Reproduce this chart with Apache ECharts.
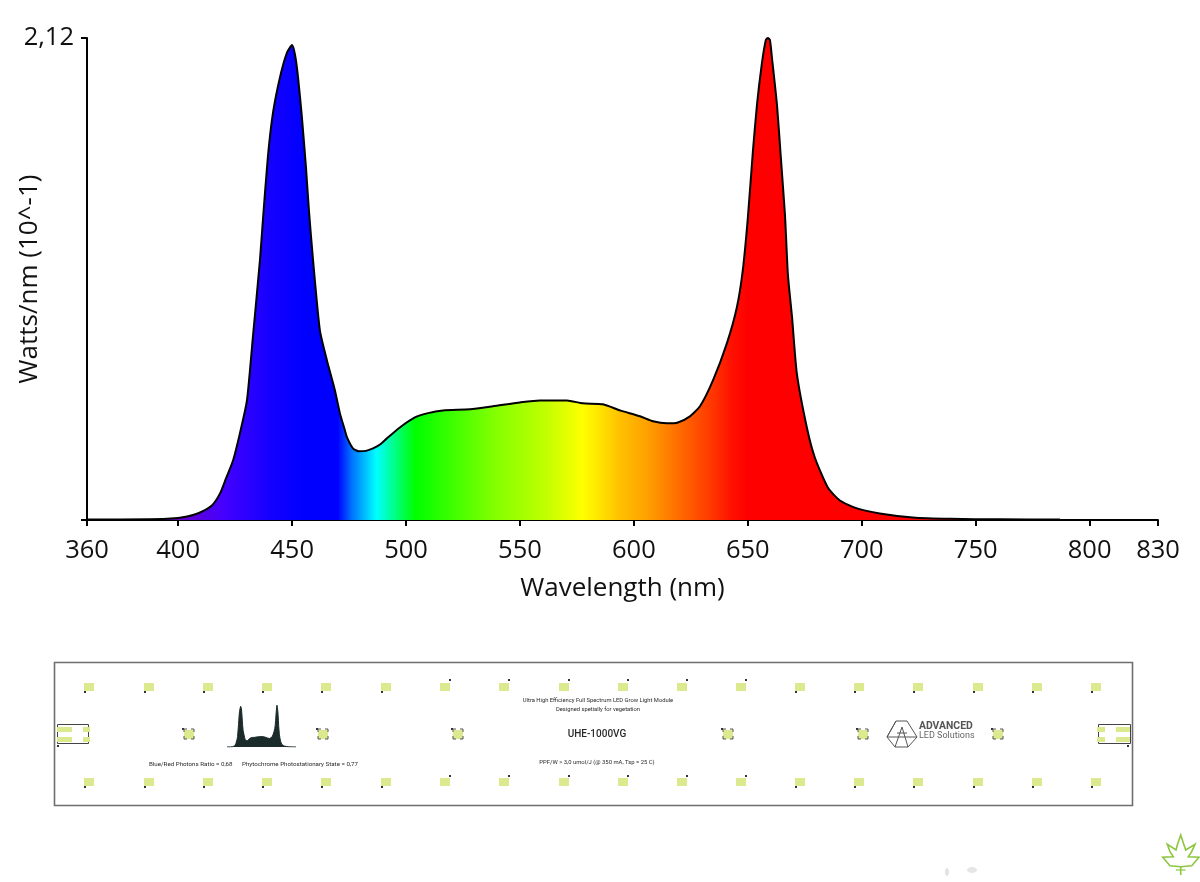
<!DOCTYPE html>
<html>
<head>
<meta charset="utf-8">
<title>UHE-1000VG spectrum</title>
<script src="https://cdn.jsdelivr.net/npm/echarts@6/dist/echarts.min.js"></script>
<style>
  html, body { margin: 0; padding: 0; background: #fff; }
  #chart { width: 1200px; height: 882px; }
</style>
</head>
<body>
<div id="chart"></div>
<script>
/* ── spectrum ── */
const wavelengths = [
  360, 387.6, 400, 403.9, 409.6, 414.8, 418.4, 421, 424.1, 427.1, 430.2, 432.8, 435.9, 437.2, 439.4,
  441.6, 444.7, 447.7, 450, 451.3, 452.6, 454.3, 456.1, 457.4, 459.2, 462.2, 465.3, 468.8, 471, 473.2,
  474.1, 476.7, 479.4, 482.4, 485.5, 488.6, 491.6, 497.3, 503.9, 509.2, 516.2, 528.1, 538.1, 550, 558.8,
  570.6, 577.6, 586.4, 593.9, 602.7, 608.4, 614.5, 619.3, 624.6, 629, 634.7, 640.8, 645.2, 647.8, 650,
  652.2, 654, 656.2, 657.9, 658.8, 659.7, 660.6, 662.8, 664.5, 666.3, 667.6, 669.4, 671.5, 675.9, 679.4,
  685.1, 690.4, 697.9, 707.9, 722.4, 738.7, 760.6, 787
];
const intensities = [
  0.002, 0.003, 0.009, 0.015, 0.033, 0.064, 0.117, 0.183, 0.262, 0.381, 0.526, 0.804, 1.143, 1.319, 1.600,
  1.790, 1.948, 2.054, 2.089, 2.045, 1.948, 1.772, 1.550, 1.360, 1.143, 0.834, 0.702, 0.570, 0.469, 0.394,
  0.363, 0.315, 0.302, 0.304, 0.315, 0.332, 0.359, 0.407, 0.451, 0.469, 0.482, 0.487, 0.500, 0.517, 0.526,
  0.526, 0.513, 0.509, 0.482, 0.456, 0.434, 0.425, 0.429, 0.456, 0.500, 0.614, 0.777, 0.936, 1.099, 1.328,
  1.618, 1.825, 2.010, 2.111, 2.120, 2.111, 2.032, 1.825, 1.592, 1.341, 1.077, 0.892, 0.645, 0.407, 0.275,
  0.143, 0.086, 0.051, 0.029, 0.011, 0.005, 0.003, 0.002
];
const xTicks = [360, 400, 450, 500, 550, 600, 650, 700, 750, 800, 830];
const yTicks = [0, 2.12];

/* fill colour by wavelength */
const spectrumNm = [400, 420, 440, 455, 470, 476, 487, 504, 538, 561, 577.6, 586, 594, 606, 623, 636, 643, 650];
const spectrumColors = [
  "#6a00c8", "#4400ff", "#1500ff", "#0000ff", "#0000ff", "#0070ff", "#00ffff", "#00ff00", "#80ff00", "#c0ff00",
  "#ffff00", "#ffe000", "#ffc000", "#ffa000", "#ff6000", "#ff3000", "#ff1000", "#ff0000"
];

/* module board */
const ledColumns = [89, 149, 208, 267, 326, 386, 445, 504, 564, 623, 682, 741, 800, 859, 918, 978, 1037, 1096];
const dotAboveColumns = [445, 504, 564, 623, 682, 741];
const bracketColumns = [189, 323, 458, 728, 863, 998];

const LED = "#dce98e";
const INK = "#333";

const firstNm = wavelengths[0];
const spanNm = wavelengths[wavelengths.length - 1] - firstNm;
const points = wavelengths.map((w, i) => [w, intensities[i]]);

const spectrumFill = new echarts.graphic.LinearGradient(
  0, 0, 1, 0,
  spectrumNm.map((nm, i) => ({ offset: (nm - firstNm) / spanNm, color: spectrumColors[i] }))
);

const rect = (x, y, width, height, fill) => ({
  type: "rect", silent: true, shape: { x, y, width, height }, style: { fill }
});
const line = (pts, stroke, lineWidth) => ({
  type: "polyline", silent: true, shape: { points: pts }, style: { stroke, lineWidth, fill: null }
});
const label = (x, y, text, fontSize, align, extra) => ({
  type: "text", silent: true, x, y,
  style: Object.assign(
    { text, fontSize, fontFamily: "Roboto", fill: "#2a2a2a", align, verticalAlign: "middle" },
    extra
  )
});

function boardElements() {
  const els = [];
  els.push({
    type: "rect", silent: true,
    shape: { x: 54.5, y: 662.5, width: 1078, height: 143 },
    style: { fill: "#fff", stroke: "#6e6e6e", lineWidth: 1.6 }
  });

  // LED rows
  ledColumns.forEach((x) => {
    const above = dotAboveColumns.includes(x);
    els.push(rect(x - 5, 683, 10, 8, LED));
    els.push(rect(x - 5, 778, 10, 8, LED));
    els.push(rect(above ? x + 4 : x - 5, above ? 679 : 691, 2, 2, INK));
    els.push(rect(above ? x + 4 : x - 5, above ? 775 : 786, 2, 2, INK));
  });

  // bracketed LEDs in the middle row
  bracketColumns.forEach((x) => {
    const y = 734;
    els.push(rect(x - 5, y - 4, 10, 9, LED));
    els.push(rect(x - 7, y - 6, 2, 2, INK));
    els.push(line([[x - 5, y - 2], [x - 5, y - 5], [x - 2, y - 5]], "#555", 1));
    els.push(line([[x + 2, y - 5], [x + 5, y - 5], [x + 5, y - 2]], "#555", 1));
    els.push(line([[x - 5, y + 2], [x - 5, y + 5], [x - 2, y + 5]], "#555", 1));
    els.push(line([[x + 2, y + 5], [x + 5, y + 5], [x + 5, y + 2]], "#555", 1));
  });

  // connectors at both ends
  [[57, 724, 31, 19], [1098, 724, 32, 19]].forEach(([x, y, w, h]) => {
    els.push({
      type: "rect", silent: true, shape: { x: x + 0.5, y: y + 0.5, width: w, height: h },
      style: { fill: null, stroke: "#444", lineWidth: 1 }
    });
  });
  [727, 737].forEach((y) => {
    els.push(rect(57, y, 15, 5, LED), rect(83, y, 7, 5, LED));
    els.push(rect(1097, y, 8, 5, LED), rect(1116, y, 14, 5, LED));
  });
  els.push(rect(57, 745, 2, 2, INK), rect(1127, 745, 2, 2, INK));

  // printed text
  els.push(label(149, 764, "Blue/Red Photons Ratio = 0,68", 6.2, "left"));
  els.push(label(242, 764, "Phytochrome Photostationary State = 0,77", 6.2, "left"));
  els.push(label(598, 701, "Ultra High Efficiency Full Spectrum LED Grow Light Module", 5.8, "center"));
  els.push(label(598, 710, "Designed spetially for vegetation", 5.8, "center"));
  els.push(label(597, 734, "UHE-1000VG", 10, "center", { fontWeight: 500 }));
  els.push(label(597, 763, "PPF/W > 3,0 umol/J (@ 350 mA, Tsp = 25 C)", 5.9, "center"));

  // logo
  els.push(line([[887, 737], [896, 721], [907, 721], [917, 737], [908, 747], [895, 747], [887, 737]], "#555", 1));
  els.push(line([[895, 747], [902, 727], [908, 747]], "#555", 1));
  els.push(line([[896, 721], [887, 737], [917, 737]], "#555", 1));
  els.push(line([[897, 733], [907, 733]], "#555", 1));
  els.push(label(919, 726, "ADVANCED", 10.4, "left", { fontWeight: 700, fill: "#555" }));
  els.push(label(919, 736, "LED Solutions", 9, "left", { fill: "#666" }));

  // leaf in the corner
  els.push(line([
    [1180.7, 866.7], [1170, 865.7], [1162.7, 857.3], [1173.3, 856.7], [1170, 851.7], [1167.3, 844.3],
    [1176, 850], [1177.3, 845], [1180.7, 835], [1184, 845], [1185.7, 850], [1195, 844.3], [1191.7, 851.7],
    [1188.3, 856.7], [1199, 857.3], [1191.7, 865.7], [1180.7, 866.7]
  ], "#8cc63f", 1.6));
  els.push(line([[1180.7, 866.7], [1180.7, 875]], "#8cc63f", 1.6));
  els.push(line([[1176, 870], [1185.5, 870]], "#8cc63f", 1.2));

  // faint smudge under the board
  els.push({
    type: "ellipse", silent: true, shape: { cx: 947, cy: 872, rx: 2, ry: 4 },
    style: { fill: "#e2e2e2" }
  });
  els.push({
    type: "ellipse", silent: true, shape: { cx: 972, cy: 870, rx: 5, ry: 3 },
    style: { fill: "#e6e6e6" }
  });
  return els;
}

const chart = echarts.init(document.getElementById("chart"), undefined, { renderer: "canvas" });

const axisFont = { color: "#111", fontSize: 25.5, fontFamily: "Open Sans" };
const nameFont = { color: "#111", fontSize: 26, fontFamily: "Open Sans" };

chart.setOption({
  animation: false,
  backgroundColor: "#fff",
  graphic: { elements: boardElements().map((el) => Object.assign({ z: -1 }, el)) },
  grid: [
    { left: 87, top: 38, width: 1071, height: 482, outerBoundsMode: "none" },
    { left: 228, top: 705, width: 67, height: 42, outerBoundsMode: "none" }
  ],
  xAxis: [
    {
      type: "value",
      min: 360,
      max: 830,
      name: "Wavelength (nm)",
      nameLocation: "middle",
      nameMoveOverlap: false,
      nameGap: 56,
      nameTextStyle: nameFont,
      splitLine: { show: false },
      axisLine: { onZero: false, lineStyle: { color: "#000", width: 2 } },
      axisTick: { length: 6, customValues: xTicks, lineStyle: { color: "#000", width: 2 } },
      axisLabel: Object.assign({ customValues: xTicks, margin: 18, hideOverlap: false, showMinLabel: true, showMaxLabel: true }, axisFont)
    },
    { type: "value", gridIndex: 1, min: 375, max: 762, show: false }
  ],
  yAxis: [
    {
      type: "value",
      min: 0,
      max: 2.12,
      name: "Watts/nm (10^-1)",
      nameLocation: "middle",
      nameMoveOverlap: false,
      nameGap: 44,
      nameTextStyle: nameFont,
      splitLine: { show: false },
      axisLine: { lineStyle: { color: "#000", width: 2 } },
      axisTick: { length: 6, customValues: yTicks, lineStyle: { color: "#000", width: 2 } },
      axisLabel: Object.assign({
        customValues: yTicks,
        margin: 13,
        showMaxLabel: true,
        formatter: (v) => (v === 0 ? "" : String(v).replace(".", ","))
      }, axisFont)
    },
    { type: "value", gridIndex: 1, min: 0, max: 2.12, show: false }
  ],
  series: [
    {
      type: "line",
      data: points,
      showSymbol: false,
      smooth: 0.2,
      lineStyle: { color: "#000", width: 2, join: "round" },
      areaStyle: { color: spectrumFill, opacity: 1 },
      z: 3
    },
    {
      type: "line",
      xAxisIndex: 1,
      yAxisIndex: 1,
      data: points,
      showSymbol: false,
      lineStyle: { color: "#1b2b2a", width: 1 },
      areaStyle: { color: "#1b2b2a", opacity: 1 },
      z: 3
    }
  ]
});
</script>
</body>
</html>
